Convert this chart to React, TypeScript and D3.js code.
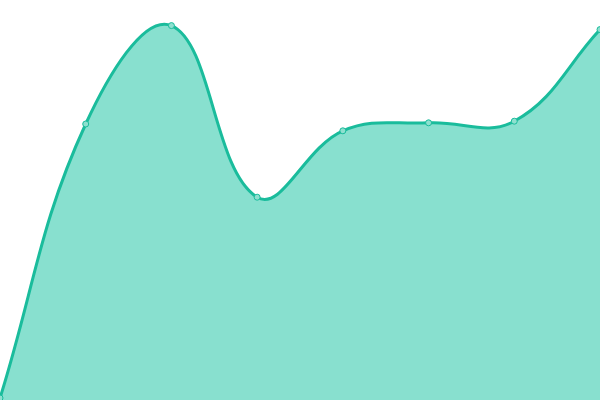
import * as d3 from "d3";

const W = 600;
const H = 400;

// categories along x (no labels shown)
const categories = ["A", "B", "C", "D", "E", "F", "G", "H"];
// series values (0-100 scale)
const values = [0.5, 69, 93.6, 50.7, 67.3, 69.3, 69.7, 92.6];

const lineColor = "#1abc9c";
const fillColor = "#88e0cf";
const tension = 0.4;

type Pt = [number, number];

// spline with distance-weighted control points, clamped to the plot box
function splinePath(pts: Pt[], closeBottom?: number) {
  const clamp = (p: Pt): Pt => [
    Math.max(0, Math.min(W, p[0])),
    Math.max(0, Math.min(H, p[1])),
  ];
  const cps = pts.map((cur, i) => {
    const prev = pts[i - 1] ?? cur;
    const next = pts[i + 1] ?? cur;
    const d01 = Math.hypot(cur[0] - prev[0], cur[1] - prev[1]);
    const d12 = Math.hypot(next[0] - cur[0], next[1] - cur[1]);
    let s01 = d01 / (d01 + d12);
    let s12 = d12 / (d01 + d12);
    if (isNaN(s01)) s01 = 0;
    if (isNaN(s12)) s12 = 0;
    const fa = tension * s01;
    const fb = tension * s12;
    const dx = next[0] - prev[0];
    const dy = next[1] - prev[1];
    return {
      before: clamp([cur[0] - fa * dx, cur[1] - fa * dy]),
      after: clamp([cur[0] + fb * dx, cur[1] + fb * dy]),
    };
  });
  const p = d3.path();
  p.moveTo(pts[0][0], pts[0][1]);
  for (let i = 1; i < pts.length; i++) {
    const a = cps[i - 1].after;
    const b = cps[i].before;
    p.bezierCurveTo(a[0], a[1], b[0], b[1], pts[i][0], pts[i][1]);
  }
  if (closeBottom !== undefined) {
    p.lineTo(pts[pts.length - 1][0], closeBottom);
    p.lineTo(pts[0][0], closeBottom);
    p.closePath();
  }
  return p.toString();
}

export default function App() {
  const x = d3.scalePoint<string>().domain(categories).range([0, W]);
  const y = d3.scaleLinear().domain([0, 100]).range([H, 0]);

  const pts: Pt[] = categories.map((c, i) => [x(c) as number, y(values[i])]);

  return (
    <svg
      width={W}
      height={H}
      style={{ position: "absolute", left: 0, top: 0, display: "block" }}
    >
      <defs>
        <clipPath id="plot">
          <rect x={0} y={0} width={W} height={H} />
        </clipPath>
      </defs>
      <g clipPath="url(#plot)">
        <path d={splinePath(pts, y(0))} fill={fillColor} />
        <path d={splinePath(pts)} fill="none" stroke={lineColor} strokeWidth={3} />
        {pts.map((d, i) => (
          <circle
            key={categories[i]}
            cx={d[0]}
            cy={d[1]}
            r={3}
            fill="#8ee0cf"
            stroke={lineColor}
            strokeWidth={1}
          />
        ))}
      </g>
    </svg>
  );
}
